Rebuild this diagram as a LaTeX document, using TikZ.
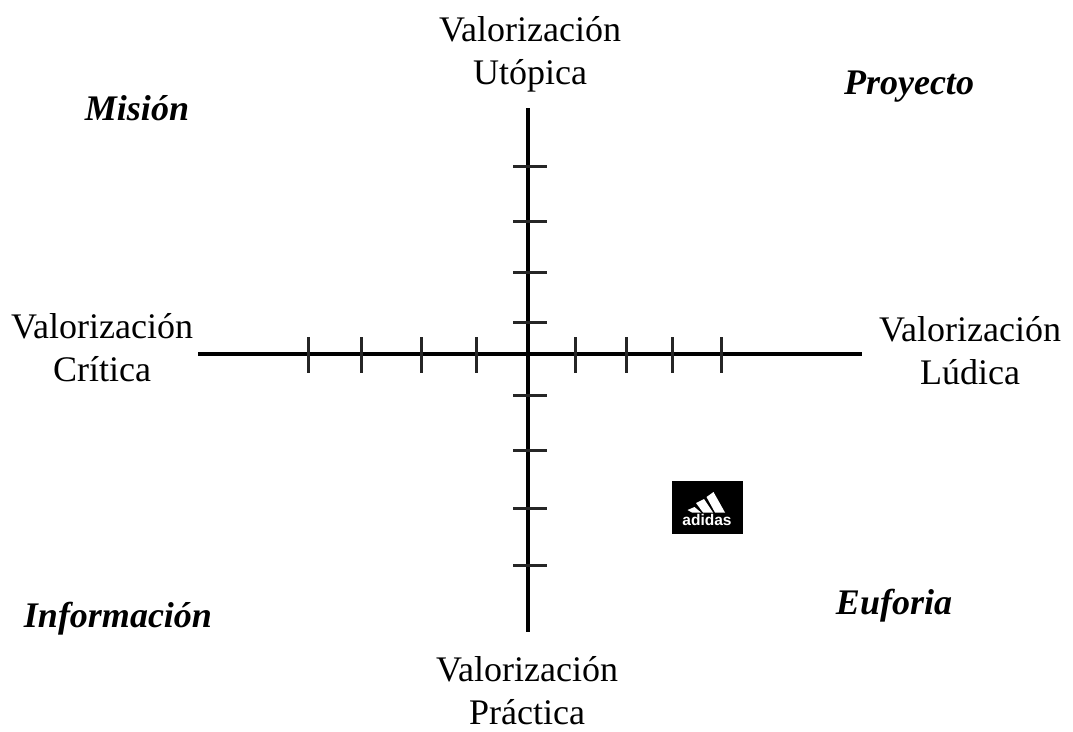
\documentclass[tikz,border=0pt]{standalone}
\usepackage{fontspec}
\setmainfont{Liberation Serif}
\newfontfamily\logofont{Liberation Sans}
\tikzset{
  axisline/.style={line width=4.4pt,black},
  tickline/.style={line width=3pt,black!85},
  axislabel/.style={align=center,inner sep=0pt,font=\fontsize{36}{43}\selectfont},
  quadlabel/.style={inner sep=0pt,font=\fontsize{36}{42}\selectfont\bfseries\itshape},
  logobox/.style={fill=black,draw=none},
  logobar/.style={fill=white,draw=none}
}
\begin{document}
\begin{tikzpicture}[x=1pt,y=-1pt]
\useasboundingbox (0,0) rectangle (1073,731);
% axes
\coordinate (left) at (198,354);
\coordinate (right) at (862,354);
\coordinate (top) at (528,108);
\coordinate (bottom) at (528,632);
\draw[axisline] (left) -- (right);
\draw[axisline] (top) -- (bottom);
% ticks
\foreach \x in {308,361,421,476,575,626,672,721}{
  \coordinate (ha\x) at (\x,337);
  \coordinate (hb\x) at (\x,373);
  \draw[tickline] (ha\x) -- (hb\x);
}
\foreach \y in {166,221,272,322,395,450,508,565}{
  \coordinate (va\y) at (513,\y);
  \coordinate (vb\y) at (547,\y);
  \draw[tickline] (va\y) -- (vb\y);
}
% axis labels
\node[axislabel] (utopica) at (530,54.5) {Valorización\\Utópica};
\node[axislabel] (critica) at (102,347.5) {Valorización\\Crítica};
\node[axislabel] (ludica) at (970,351) {Valorización\\Lúdica};
\node[axislabel] (practica) at (527,690.5) {Valorización\\Práctica};
% quadrant labels
\node[quadlabel] (mision) at (137,108) {Misión};
\node[quadlabel] (proyecto) at (909,87) {Proyecto};
\node[quadlabel] (informacion) at (118,619) {Información};
\node[quadlabel] (euforia) at (894,605.5) {Euforia};
% logo
\fill[logobox] (672,481) rectangle (743,534);
\fill[logobar] (706.5,497) -- (713.5,492) -- (725,512.5) -- (715,512.5) -- cycle;
\fill[logobar] (696,503) -- (704,499) -- (713,512.5) -- (703,512.5) -- cycle;
\fill[logobar] (687.5,510) -- (694.5,507) -- (701,512.5) -- (692,512.5) -- cycle;
\node[inner sep=0pt,text=white,font=\logofont\bfseries\fontsize{15.5}{16}\selectfont] (logotext) at (707,519.5) {adidas};
\end{tikzpicture}
\end{document}
